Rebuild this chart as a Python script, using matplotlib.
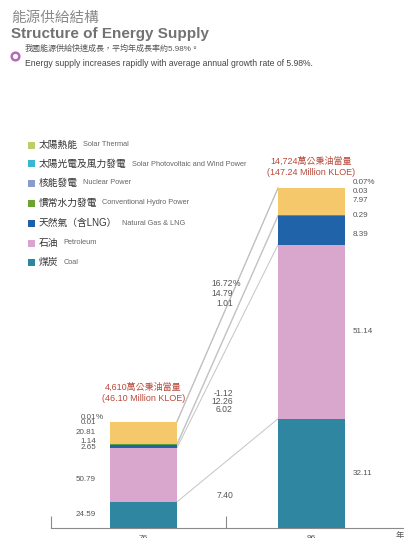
import matplotlib
matplotlib.use("Agg")
import matplotlib.pyplot as plt
import matplotlib.transforms as mtransforms
from matplotlib.lines import Line2D
from matplotlib.patches import Rectangle
import numpy as np

# ---- data -------------------------------------------------------------
years = ["76", "96"]
totals = [46.10, 147.24]  # million KLOE

# source order: bottom of the stack first
sources_zh = ["煤炭", "石油", "天然氣（含LNG）", "慣常水力發電", "核能發電",
              "太陽光電及風力發電", "太陽熱能"]
sources_en = ["Coal", "Petroleum", "Natural Gas & LNG", "Conventional Hydro Power",
              "Nuclear Power", "Solar Photovoltaic and Wind Power", "Solar Thermal"]
share_76 = [24.59, 50.79, 2.65, 1.14, 20.81, 0.01, 0.01]   # %
share_96 = [32.11, 51.14, 8.39, 0.29, 7.97, 0.03, 0.07]    # %
growth = ["7.40", "6.02", "12.26", "-1.12", "1.01", "14.79", "16.72"]  # avg annual growth %

# ---- styling ------------------------------------------------------------
FAM = ["Liberation Sans", "Noto Sans CJK TC"]
bar_colors = ["#2e86a0", "#d9a6cd", "#2163a8", "#5f9c3a", "#f6c86c", "#3ab6d0", "#6f9ea8"]
legend_colors = ["#2b87a0", "#dba3cf", "#1f5ea8", "#6aa532", "#8b9bd0", "#3ab6d0", "#b8cf6a"]
num_color = "#555555"
red = "#b84a3c"

W, H = 404, 538
fig = plt.figure(figsize=(W / 100, H / 100), dpi=100)
fig.patch.set_facecolor("white")


def fx(x):
    return x / W


def fy(y):
    return 1 - y / H


def ftext(x, y, s, **kw):
    kw.setdefault("family", FAM)
    kw.setdefault("va", "center")
    return fig.text(fx(x), fy(y), s, **kw)


# ---- header -------------------------------------------------------------
ftext(11, 18, "能源供給結構", fontsize=10.5, color="#8a8a8a")
ftext(11, 34, "Structure of Energy Supply", fontsize=11, color="#727272",
      fontweight="bold")
fig.add_artist(Line2D([fx(15)], [fy(56)], marker="o", markersize=5.5,
                      markerfacecolor="white", markeredgecolor="#b36bb5",
                      markeredgewidth=1.8, transform=fig.transFigure))
ftext(25, 49, "我國能源供給快速成長，平均年成長率約5.98%。", fontsize=5.8, color="#555555")
ftext(25, 63, "Energy supply increases rapidly with average annual growth rate of 5.98%.",
      fontsize=6.2, color="#444444")

# ---- legend (top entry is the last source) ------------------------------
renderer = fig.canvas.get_renderer()
legend_rows = [145, 164, 183, 203, 223, 243, 262]
for row, i in zip(legend_rows, range(len(sources_zh) - 1, -1, -1)):
    fig.add_artist(Rectangle((fx(28), fy(row + 3.5)), 7 / W, 7 / H,
                             transform=fig.transFigure,
                             facecolor=legend_colors[i], edgecolor="none"))
    t = ftext(39, row, sources_zh[i], fontsize=7, color="#333333")
    bb = t.get_window_extent(renderer)
    fig.text((bb.x1 + 5) / W, fy(row), sources_en[i], family=FAM, va="center",
             fontsize=5.3, color="#666666")

# ---- chart axes ----------------------------------------------------------
px_per_unit = 2.31
ax_left, ax_bottom, ax_top = 51, 528, 140
ax = fig.add_axes([fx(ax_left), fy(ax_bottom), (W - ax_left) / W, (ax_bottom - ax_top) / H])
ax.set_ylim(0, (ax_bottom - ax_top) / px_per_unit)
c0, c1 = 143.5, 311.5
sep = c1 - c0
ax.set_xlim((ax_left - c0) / sep, (W - c0) / sep)
bar_w = 67 / sep
xpos = np.arange(len(years))

ax.patch.set_alpha(0)
for s in ["top", "right", "left"]:
    ax.spines[s].set_visible(False)
ax.spines["bottom"].set_color("#8a8a8a")
ax.spines["bottom"].set_linewidth(0.8)
ax.set_yticks([])
ax.set_xticks([(ax_left - c0) / sep, (226 - c0) / sep])
ax.set_xticklabels([])
ax.tick_params(axis="x", direction="in", length=9, color="#8a8a8a", width=0.8)

abs76 = np.array(share_76) * totals[0] / 100
abs96 = np.array(share_96) * totals[1] / 100
cum76 = np.concatenate([[0], np.cumsum(abs76)])
cum96 = np.concatenate([[0], np.cumsum(abs96)])

# connector lines between matching segment tops
for i in range(len(share_76)):
    ax.plot([xpos[0] + bar_w / 2, xpos[1] - bar_w / 2], [cum76[i + 1], cum96[i + 1]],
            color="#c4c4c4", lw=0.7, zorder=1)

for i in range(len(share_76)):
    ax.bar(xpos, [abs76[i], abs96[i]], bottom=[cum76[i], cum96[i]], width=bar_w,
           color=bar_colors[i], edgecolor="none", zorder=2)

# value labels beside each bar (pixel nudges keep the thin ones legible)
nudge76 = [0, -5, -1, 3, 0, -1, 4]
nudge96 = [0, 0, -4, 0, 1, -3, 5]
for i in range(len(share_76)):
    mid = cum76[i] + abs76[i] / 2
    tr = mtransforms.offset_copy(ax.transData, fig=fig, x=-14, y=nudge76[i], units="dots")
    ax.text(xpos[0] - bar_w / 2, mid, f"{share_76[i]:.2f}", transform=tr, ha="right",
            va="center", fontsize=5.8, color=num_color, family=FAM)
    mid = cum96[i] + abs96[i] / 2
    tr = mtransforms.offset_copy(ax.transData, fig=fig, x=8, y=nudge96[i], units="dots")
    lab = f"{share_96[i]:.2f}" + ("%" if i == len(share_96) - 1 else "")
    ax.text(xpos[1] + bar_w / 2, mid, lab, transform=tr, ha="left",
            va="center", fontsize=5.8, color=num_color, family=FAM)
# percent sign after the top label of the first bar
tr = mtransforms.offset_copy(ax.transData, fig=fig, x=-14, y=nudge76[-1], units="dots")
ax.text(xpos[0] - bar_w / 2, cum76[-2] + abs76[-1] / 2, "%", transform=tr, ha="left",
        va="center", fontsize=5.8, color=num_color, family=FAM)

# totals above bars
total_offsets = [(34, 23), (27, 15)]
for x, tot, cum, (o1, o2) in zip(xpos, totals, [cum76[-1], cum96[-1]], total_offsets):
    tr = mtransforms.offset_copy(ax.transData, fig=fig, x=0, y=o1, units="dots")
    ax.text(x, cum, f"{tot * 100:,.0f}萬公秉油當量", transform=tr, ha="center",
            va="center", fontsize=6.5, color=red, family=FAM)
    tr = mtransforms.offset_copy(ax.transData, fig=fig, x=0, y=o2, units="dots")
    ax.text(x, cum, f"({tot:.2f} Million KLOE)", transform=tr, ha="center",
            va="center", fontsize=6.5, color=red, family=FAM)

# growth-rate labels in the gap between bars
growth_y = [495, 410, 402, 393, 303, 293, 283]
for i, (g, gy) in enumerate(zip(growth, growth_y)):
    ftext(233, gy, g, ha="right", fontsize=6.2, color=num_color)
ftext(233, growth_y[-1], "%", ha="left", fontsize=6.2, color=num_color)

# year labels
for x, yr in zip(xpos, years):
    ax.text(x, -3, yr, ha="center", va="top", fontsize=6, color="#555555", family=FAM,
            clip_on=False)
ftext(400, 536, "年", ha="center", fontsize=6, color="#555555")

fig.savefig("out.png", dpi=100, facecolor="white")
